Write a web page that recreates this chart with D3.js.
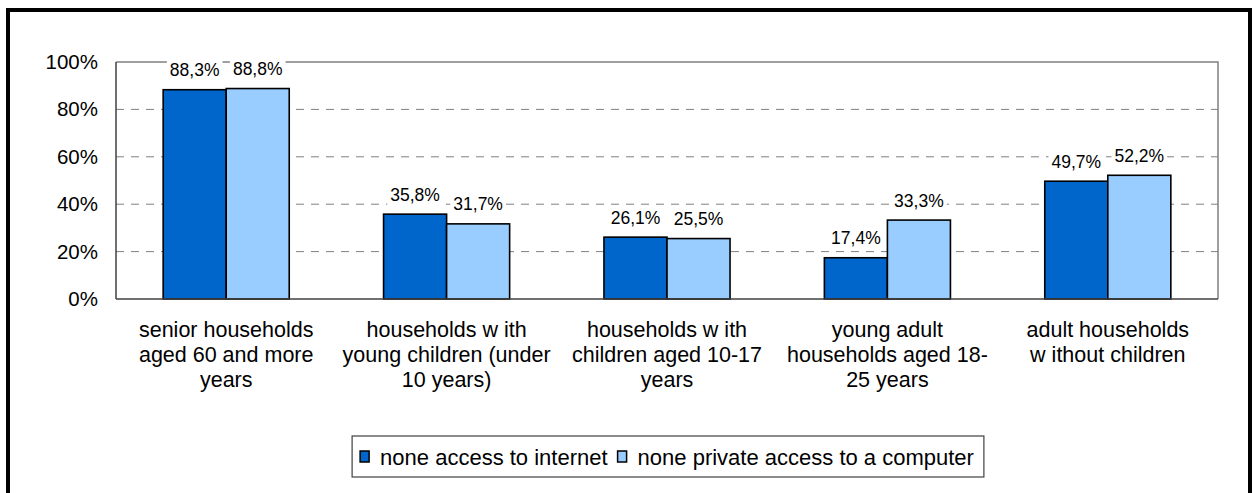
<!DOCTYPE html>
<html>
<head>
<meta charset="utf-8">
<script src="https://cdn.jsdelivr.net/npm/d3@7"></script>
<style>
  body { margin: 0; background: #fff; }
  svg { display: block; font-family: "Liberation Sans", Arial, sans-serif; }
</style>
</head>
<body>
<svg id="chart"></svg>
<script>
// data
const categories = [
  "senior households\naged 60 and more\nyears",
  "households w ith\nyoung children (under\n10 years)",
  "households w ith\nchildren aged 10-17\nyears",
  "young adult\nhouseholds aged 18-\n25 years",
  "adult households\nw ithout children"
];
const seriesNames = ["none access to internet", "none private access to a computer"];
const noInternet = [88.3, 35.8, 26.1, 17.4, 49.7];
const noComputer = [88.8, 31.7, 25.5, 33.3, 52.2];
const yTicks = [0, 20, 40, 60, 80, 100];
const colors = ["#0066CC", "#99CCFF"];

const svgWidth = 1253, svgHeight = 493;
const margin = { top: 62, right: 35, bottom: 194, left: 116 };
const width = svgWidth - margin.left - margin.right;
const height = svgHeight - margin.top - margin.bottom;

const svg = d3.select("#chart")
  .attr("width", svgWidth)
  .attr("height", svgHeight);

// outer frame
svg.append("rect")
  .attr("x", 8).attr("y", 10)
  .attr("width", 1242).attr("height", 500)
  .attr("fill", "#fff")
  .attr("stroke", "#000")
  .attr("stroke-width", 4);

const g = svg.append("g")
  .attr("transform", "translate(" + margin.left + "," + margin.top + ")");

const x0 = d3.scaleBand()
  .domain(categories)
  .range([0, width])
  .paddingInner(0.428)
  .paddingOuter(0.214);

const x1 = d3.scaleBand()
  .domain([0, 1])
  .range([0, x0.bandwidth()]);

const y = d3.scaleLinear().domain([0, 100]).range([height, 0]);

// grid lines
g.selectAll(".grid")
  .data(yTicks.filter(t => t > 0 && t < 100))
  .enter().append("line")
  .attr("x1", 0).attr("x2", width)
  .attr("y1", d => y(d)).attr("y2", d => y(d))
  .attr("stroke", "#808080")
  .attr("stroke-width", 1)
  .attr("stroke-dasharray", "8,7");

// plot frame (top + right)
g.append("path")
  .attr("d", "M0," + y(100) + "H" + width + "V" + height)
  .attr("fill", "none")
  .attr("stroke", "#808080")
  .attr("stroke-width", 1.5);

// y axis labels
const yAxis = d3.axisLeft(y)
  .tickValues(yTicks)
  .tickSize(0)
  .tickPadding(18)
  .tickFormat(d => d + "%");

g.append("g")
  .call(yAxis)
  .call(a => a.select(".domain").remove())
  .selectAll("text")
  .attr("font-size", "20.5px")
  .attr("font-family", "Liberation Sans, Arial, sans-serif")
  .attr("fill", "#000");

const rows = categories.map((c, i) => ({ cat: c, vals: [noInternet[i], noComputer[i]] }));

const groups = g.selectAll(".group")
  .data(rows)
  .enter().append("g")
  .attr("transform", d => "translate(" + x0(d.cat) + ",0)");

groups.selectAll("rect")
  .data(d => d.vals.map((v, k) => ({ v: v, k: k })))
  .enter().append("rect")
  .attr("x", d => x1(d.k))
  .attr("y", d => y(d.v))
  .attr("width", x1.bandwidth())
  .attr("height", d => height - y(d.v))
  .attr("fill", d => colors[d.k])
  .attr("stroke", "#000")
  .attr("stroke-width", 1.6);

// value labels with white background
const fmt = v => v.toFixed(1).replace(".", ",") + "%";
const labels = groups.selectAll(".lbl")
  .data(d => d.vals.map((v, k) => ({ v: v, k: k })))
  .enter().append("g");

labels.each(function (d) {
  const lg = d3.select(this);
  const cx = x1(d.k) + x1.bandwidth() / 2;
  const by = y(d.v) - 13.5;
  const bg = lg.append("rect").attr("fill", "#fff");
  const t = lg.append("text")
    .attr("x", cx)
    .attr("y", by)
    .attr("text-anchor", "middle")
    .attr("font-size", "17.5px")
    .attr("fill", "#000")
    .text(fmt(d.v));
  const w = t.node().getComputedTextLength();
  bg.attr("x", cx - w / 2 - 3).attr("y", by - 16)
    .attr("width", w + 6).attr("height", 21);
});

// axes lines
g.append("line")
  .attr("x1", 0).attr("x2", 0)
  .attr("y1", 0).attr("y2", height)
  .attr("stroke", "#404040").attr("stroke-width", 1.5);
g.append("line")
  .attr("x1", 0).attr("x2", width)
  .attr("y1", height).attr("y2", height)
  .attr("stroke", "#404040").attr("stroke-width", 1.5);

// category labels
g.selectAll(".cat")
  .data(categories)
  .enter().append("text")
  .attr("text-anchor", "middle")
  .attr("font-size", "21.5px")
  .attr("fill", "#000")
  .attr("transform", d => "translate(" + (x0(d) + x0.bandwidth() / 2) + "," + (height + 38) + ")")
  .each(function (d) {
    const lines = d.split("\n");
    d3.select(this).selectAll("tspan")
      .data(lines)
      .enter().append("tspan")
      .attr("x", 0)
      .attr("y", (l, i) => i * 25)
      .text(l => l);
  });

// legend
const legend = svg.append("g");
const legBox = legend.append("rect")
  .attr("fill", "#fff")
  .attr("stroke", "#404040")
  .attr("stroke-width", 1.2);

let cursor = 0;
seriesNames.forEach((name, k) => {
  const it = legend.append("g");
  it.append("rect")
    .attr("x", cursor).attr("y", -6)
    .attr("width", 9).attr("height", 11)
    .attr("fill", colors[k])
    .attr("stroke", "#000").attr("stroke-width", 1.5);
  const t = it.append("text")
    .attr("x", cursor + 20)
    .attr("y", 7.5)
    .attr("font-size", "22px")
    .attr("fill", "#000")
    .text(name);
  cursor += 20 + t.node().getComputedTextLength() + 10;
});
const legW = cursor - 10;
const legCx = margin.left + width / 2;
const legLeft = legCx - legW / 2;
legend.attr("transform", "translate(" + legLeft + ",457)");
legBox.attr("x", -8).attr("y", -21).attr("width", legW + 18).attr("height", 41);
</script>
</body>
</html>
